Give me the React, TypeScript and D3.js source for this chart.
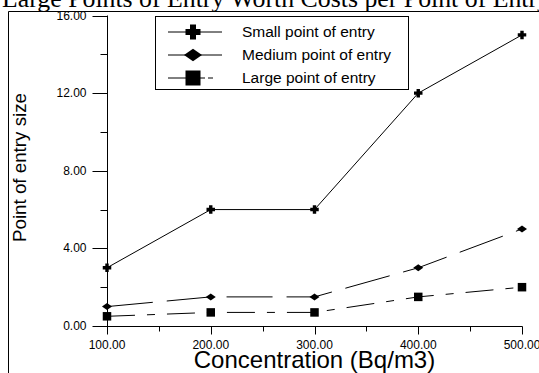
import * as d3 from "d3";
import { useEffect, useRef } from "react";

const concentrations = [100, 200, 300, 400, 500];
const smallEntry = [3, 6, 6, 12, 15];
const mediumEntry = [1, 1.5, 1.5, 3, 5];
const largeEntry = [0.5, 0.7, 0.7, 1.5, 2];
const yTicks = [0, 4, 8, 12, 16];
const seriesNames = ["Small point of entry", "Medium point of entry", "Large point of entry"];

export default function App() {
  const ref = useRef<SVGSVGElement>(null);

  useEffect(() => {
    const svg = d3.select(ref.current);
    svg.selectAll("*").remove();

    const width = 539;
    const height = 373;
    svg.attr("width", width).attr("height", height);

    const x = d3.scaleLinear().domain([100, 500]).range([107, 522]);
    const y = d3.scaleLinear().domain([0, 16]).range([326, 15.5]);

    // title, cut off at the top and right like the source
    svg.append("text")
      .attr("x", 2)
      .attr("y", 7)
      .style("font-family", "'Liberation Serif', 'Times New Roman', serif")
      .style("font-size", "25.8px")
      .text("Large Points of Entry Worth Costs per Point of Entry");

    // outer frame
    svg.append("path")
      .attr("d", `M8.5,${height}V11.5H${width}`)
      .attr("fill", "none")
      .attr("stroke", "#000")
      .attr("stroke-width", 1);

    const sans = "'Liberation Sans', Arial, sans-serif";

    // y axis
    const yAxis = svg.append("g").attr("transform", "translate(107.5,0)");
    yAxis.append("line").attr("y1", y(16)).attr("y2", 334).attr("stroke", "#000");
    yAxis.selectAll(".minor")
      .data(d3.range(2, 16, 4))
      .enter().append("line")
      .attr("x1", -7).attr("x2", 0)
      .attr("y1", d => Math.round(y(d)) + 0.5).attr("y2", d => Math.round(y(d)) + 0.5)
      .attr("stroke", "#000");
    yAxis.selectAll(".major")
      .data(yTicks)
      .enter().append("line")
      .attr("x1", -15).attr("x2", 0)
      .attr("y1", d => Math.round(y(d)) + 0.5).attr("y2", d => Math.round(y(d)) + 0.5)
      .attr("stroke", "#000");
    yAxis.selectAll("text")
      .data(yTicks)
      .enter().append("text")
      .attr("x", -21)
      .attr("y", d => y(d) + 4)
      .attr("text-anchor", "end")
      .style("font-family", sans)
      .style("font-size", "12px")
      .text(d => d.toFixed(2));

    // x axis
    const xAxis = svg.append("g").attr("transform", "translate(0,326.5)");
    xAxis.append("line").attr("x1", 93).attr("x2", x(500) + 0.5).attr("stroke", "#000");
    xAxis.selectAll(".minor")
      .data(d3.range(150, 500, 100))
      .enter().append("line")
      .attr("x1", d => Math.round(x(d)) + 0.5).attr("x2", d => Math.round(x(d)) + 0.5)
      .attr("y1", 0).attr("y2", 5)
      .attr("stroke", "#000");
    xAxis.selectAll(".major")
      .data(concentrations)
      .enter().append("line")
      .attr("x1", d => Math.round(x(d)) + 0.5).attr("x2", d => Math.round(x(d)) + 0.5)
      .attr("y1", 0).attr("y2", 8)
      .attr("stroke", "#000");
    xAxis.selectAll("text")
      .data(concentrations)
      .enter().append("text")
      .attr("x", d => x(d))
      .attr("y", 22)
      .attr("text-anchor", "middle")
      .style("font-family", sans)
      .style("font-size", "12px")
      .text(d => d.toFixed(2));

    // axis titles
    svg.append("text")
      .attr("x", (x(100) + x(500)) / 2)
      .attr("y", 368)
      .attr("text-anchor", "middle")
      .style("font-family", sans)
      .style("font-size", "24px")
      .text("Concentration (Bq/m3)");

    svg.append("text")
      .attr("transform", "translate(26,167.5) rotate(-90)")
      .attr("text-anchor", "middle")
      .attr("textLength", 149)
      .attr("lengthAdjust", "spacingAndGlyphs")
      .style("font-family", sans)
      .style("font-size", "19px")
      .text("Point of entry size");

    const series = [
      { name: seriesNames[0], values: smallEntry, dash: null, marker: "plus" },
      { name: seriesNames[1], values: mediumEntry, dash: "46,14", marker: "diamond" },
      { name: seriesNames[2], values: largeEntry, dash: "28,12,8,12", marker: "square" },
    ];

    const line = d3.line<number>()
      .x((_, i) => x(concentrations[i]))
      .y(d => y(d));

    const drawMarker = (g: any, kind: string, cx: number, cy: number, s: number) => {
      if (kind === "plus") {
        const a = s / 2, t = s / 5;
        g.append("path")
          .attr("d", `M${cx - a},${cy - t}H${cx - t}V${cy - a}H${cx + t}V${cy - t}H${cx + a}V${cy + t}H${cx + t}V${cy + a}H${cx - t}V${cy + t}H${cx - a}Z`)
          .attr("fill", "#000");
      } else if (kind === "diamond") {
        const a = s / 2;
        g.append("path")
          .attr("d", `M${cx},${cy - a * 0.7}L${cx + a},${cy}L${cx},${cy + a * 0.7}L${cx - a},${cy}Z`)
          .attr("fill", "#000");
      } else {
        g.append("rect")
          .attr("x", cx - s / 2).attr("y", cy - s / 2)
          .attr("width", s).attr("height", s)
          .attr("fill", "#000");
      }
    };

    const plot = svg.append("g");
    series.forEach(s => {
      plot.append("path")
        .datum(s.values)
        .attr("d", line)
        .attr("fill", "none")
        .attr("stroke", "#000")
        .attr("stroke-width", 1)
        .attr("stroke-dasharray", s.dash);
      s.values.forEach((v, i) => {
        drawMarker(plot, s.marker, x(concentrations[i]), y(v), s.marker === "diamond" ? 10 : 8.5);
      });
    });

    // legend
    const legend = svg.append("g");
    legend.append("rect")
      .attr("x", 155.5).attr("y", 16.5)
      .attr("width", 253).attr("height", 73)
      .attr("fill", "#fff")
      .attr("stroke", "#000");
    series.forEach((s, i) => {
      const cy = 32 + i * 23;
      legend.append("line")
        .attr("x1", 168).attr("x2", s.marker === "square" ? 205 : 222)
        .attr("y1", cy).attr("y2", cy)
        .attr("stroke", "#000");
      if (s.marker === "square") {
        legend.append("line").attr("x1", 208).attr("x2", 213).attr("y1", cy).attr("y2", cy).attr("stroke", "#000");
      }
      drawMarker(legend, s.marker, 193, cy, s.marker === "diamond" ? 18 : 15);
      legend.append("text")
        .attr("x", 242)
        .attr("y", cy + 5)
        .style("font-family", sans)
        .style("font-size", "15.5px")
        .text(s.name);
    });
  }, []);

  return (
    <svg
      ref={ref}
      style={{ position: "absolute", left: 0, top: 0, display: "block", background: "#fff" }}
    />
  );
}
